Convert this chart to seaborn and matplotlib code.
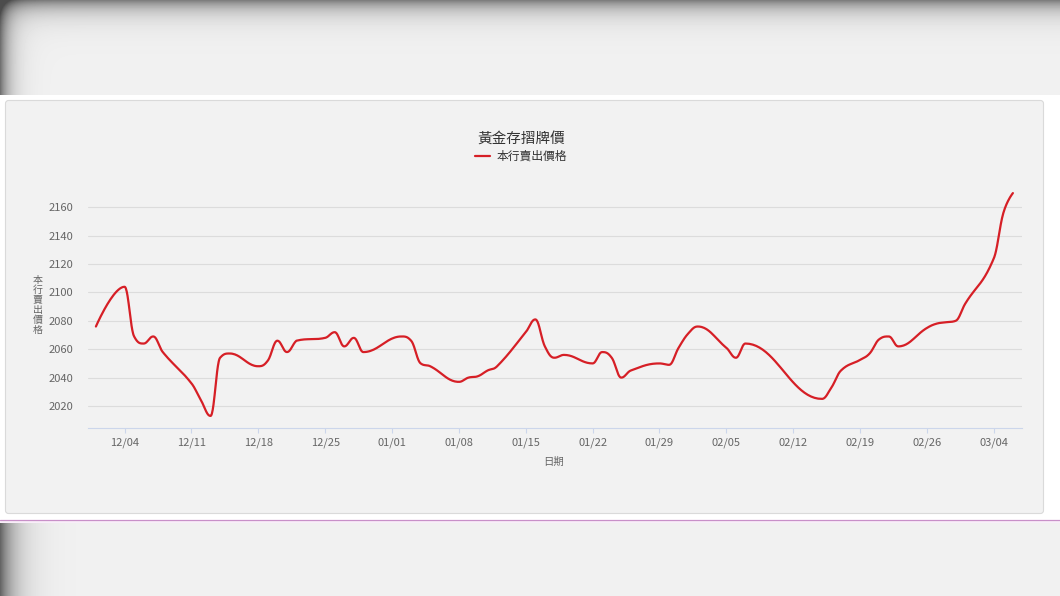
import numpy as np
import pandas as pd
import seaborn as sns
import matplotlib
matplotlib.use("Agg")
import matplotlib.pyplot as plt
import matplotlib.dates as mdates
from matplotlib.lines import Line2D
from matplotlib.patches import Rectangle, FancyBboxPatch

# 黃金存摺牌價 - 本行賣出價格 (讀自圖上)
dates = ["2023-12-01", "2023-12-04", "2023-12-05", "2023-12-06", "2023-12-07", "2023-12-08",
         "2023-12-11", "2023-12-12", "2023-12-13", "2023-12-14", "2023-12-15",
         "2023-12-18", "2023-12-19", "2023-12-20", "2023-12-21", "2023-12-22",
         "2023-12-25", "2023-12-26", "2023-12-27", "2023-12-28", "2023-12-29",
         "2024-01-02", "2024-01-03", "2024-01-04", "2024-01-05",
         "2024-01-08", "2024-01-09", "2024-01-10", "2024-01-11", "2024-01-12",
         "2024-01-15", "2024-01-16", "2024-01-17", "2024-01-18", "2024-01-19",
         "2024-01-22", "2024-01-23", "2024-01-24", "2024-01-25", "2024-01-26",
         "2024-01-29", "2024-01-30", "2024-01-31", "2024-02-01", "2024-02-02",
         "2024-02-05", "2024-02-06", "2024-02-07",
         "2024-02-15", "2024-02-16", "2024-02-17",
         "2024-02-19", "2024-02-20", "2024-02-21", "2024-02-22", "2024-02-23",
         "2024-02-26", "2024-02-27", "2024-02-28", "2024-02-29", "2024-03-01",
         "2024-03-04", "2024-03-05", "2024-03-06"]
prices = [2076, 2104, 2069, 2064, 2069, 2058,
          2036, 2024, 2013, 2054, 2057,
          2048, 2052, 2066, 2058, 2066,
          2068, 2072, 2062, 2068, 2058,
          2069, 2066, 2050, 2048,
          2037, 2040, 2041, 2045, 2048,
          2072, 2081, 2062, 2054, 2056,
          2050, 2058, 2054, 2040, 2045,
          2050, 2049, 2061, 2071, 2076,
          2061, 2054, 2064,
          2025, 2033, 2045,
          2052.5, 2057, 2067, 2069, 2062,
          2075, 2078, 2079, 2080, 2092,
          2124, 2156, 2170]

TITLE = "黃金存摺牌價"
SERIES = "本行賣出價格"
XLABEL = "日期"
YTICKS = [2020, 2040, 2060, 2080, 2100, 2120, 2140, 2160]

W, H = 1060, 596
LINE_COLOR = "#d61f26"
TXT = "#666666"


def spline_curve(xs, ys, smoothing=1.5, steps=24):
    """Suavização do tipo spline (curvas de Bezier entre os pontos)."""
    n = len(xs)
    denom = smoothing + 1
    lc = [(xs[i], ys[i]) for i in range(n)]
    rc = [(xs[i], ys[i]) for i in range(n)]
    for i in range(1, n - 1):
        px, py = xs[i], ys[i]
        lx, ly = xs[i - 1], ys[i - 1]
        nx, ny = xs[i + 1], ys[i + 1]
        lcx = (smoothing * px + lx) / denom
        lcy = (smoothing * py + ly) / denom
        rcx = (smoothing * px + nx) / denom
        rcy = (smoothing * py + ny) / denom
        corr = 0
        if rcx != lcx:
            corr = ((rcy - lcy) * (rcx - px)) / (rcx - lcx) + py - rcy
        lcy += corr
        rcy += corr
        if lcy > ly and lcy > py:
            lcy = max(ly, py)
            rcy = 2 * py - lcy
        elif lcy < ly and lcy < py:
            lcy = min(ly, py)
            rcy = 2 * py - lcy
        if rcy > ny and rcy > py:
            rcy = max(ny, py)
            lcy = 2 * py - rcy
        elif rcy < ny and rcy < py:
            rcy = min(ny, py)
            lcy = 2 * py - rcy
        lc[i] = (lcx, lcy)
        rc[i] = (rcx, rcy)
    cx, cy = [xs[0]], [ys[0]]
    t = np.linspace(0, 1, steps + 1)[1:]
    for i in range(1, n):
        p0 = np.array([xs[i - 1], ys[i - 1]])
        p1 = np.array(rc[i - 1])
        p2 = np.array(lc[i])
        p3 = np.array([xs[i], ys[i]])
        for tt in t:
            p = ((1 - tt) ** 3) * p0 + 3 * ((1 - tt) ** 2) * tt * p1 + 3 * (1 - tt) * tt ** 2 * p2 + tt ** 3 * p3
            cx.append(p[0])
            cy.append(p[1])
    return np.array(cx), np.array(cy)


sns.set_theme(style="white")
plt.rcParams["font.family"] = ["Noto Sans CJK TC", "DejaVu Sans"]

df = pd.DataFrame({"data": pd.to_datetime(dates), "preco": prices})
df["x"] = mdates.date2num(df["data"])
curve_x, curve_y = spline_curve(df["x"].tolist(), df["preco"].tolist())
curve = pd.DataFrame({"x": curve_x, "y": curve_y})

fig = plt.figure(figsize=(W / 100, H / 100), dpi=100, facecolor="white")

# fundo (captura de tela)
bg = fig.add_axes([0, 0, 1, 1], zorder=-10)
bg.set_xlim(0, W)
bg.set_ylim(H, 0)
bg.axis("off")
xx, yy = np.meshgrid(np.arange(W), np.arange(95))
top = 0.945 - 0.45 * np.exp(-yy / 11.0) - 0.5 * np.exp(-xx / 10.0)
bg.imshow(np.clip(top, 0.3, 1), cmap="gray", vmin=0, vmax=1, extent=(0, W, 95, 0), aspect="auto")
xx2, yy2 = np.meshgrid(np.arange(W), np.arange(73))
bot = 0.945 - 0.55 * np.exp(-xx2 / 15.0)
bg.imshow(np.clip(bot, 0.3, 1), cmap="gray", vmin=0, vmax=1, extent=(0, W, 596, 523), aspect="auto")
bg.add_patch(Rectangle((0, 520.5), W, 2.5, facecolor="#f9eef9", edgecolor="none"))
bg.plot([0, W], [520, 520], color="#c890c8", lw=0.9)
bg.add_patch(FancyBboxPatch((5.5, 100.5), 1038, 413, boxstyle="round,pad=0,rounding_size=3",
                            facecolor="#f2f2f2", edgecolor="#dadada", lw=0.8))
bg.set_xlim(0, W)
bg.set_ylim(H, 0)

# gráfico
left, right, ytop, ybot = 87.5, 1021.5, 186, 428
ax = fig.add_axes([left / W, 1 - ybot / H, (right - left) / W, (ybot - ytop) / H])
ax.set_facecolor("none")
sns.lineplot(data=curve, x="x", y="y", ax=ax, color=LINE_COLOR, linewidth=1.6,
             estimator=None, sort=False, zorder=3)

x0 = mdates.date2num(pd.Timestamp("2023-12-01"))
ax.set_xlim(x0 - 0.88, x0 + 96.9)
ax.set_ylim(2004.5, 2175)
ax.set_yticks(YTICKS)
ax.xaxis.set_major_locator(mdates.WeekdayLocator(byweekday=mdates.MO))
ax.xaxis.set_major_formatter(mdates.DateFormatter("%m/%d"))
ax.grid(axis="y", color="#dcdcdc", linewidth=0.8)
ax.grid(axis="x", visible=False)
for s in ["top", "right", "left"]:
    ax.spines[s].set_visible(False)
ax.spines["bottom"].set_color("#ccd6eb")
ax.spines["bottom"].set_linewidth(0.8)
ax.tick_params(axis="y", length=0, pad=10.5, labelsize=8, labelcolor=TXT)
ax.tick_params(axis="x", length=3.6, width=0.8, color="#ccd6eb", direction="out",
               pad=3, labelsize=8, labelcolor=TXT, bottom=True)
ax.set_xlabel("")
ax.set_ylabel("")

fig.text(521 / W, 1 - 139 / H, TITLE, ha="center", va="center", fontsize=10.5, color="#333333")
fig.text(554 / W, 1 - 462 / H, XLABEL, ha="center", va="center", fontsize=7.5, color=TXT)
fig.text(38 / W, 1 - 305 / H, "\n".join(SERIES), ha="center", va="center", fontsize=7.2,
         color=TXT, linespacing=1.0)
handle = Line2D([], [], color=LINE_COLOR, linewidth=1.6)
fig.legend([handle], [SERIES], loc="center", bbox_to_anchor=(521 / W, 1 - 156.5 / H),
           frameon=False, fontsize=8.5, handlelength=1.3, handletextpad=0.5,
           labelcolor="#333333")

fig.savefig("out.png", dpi=100, facecolor="white")
